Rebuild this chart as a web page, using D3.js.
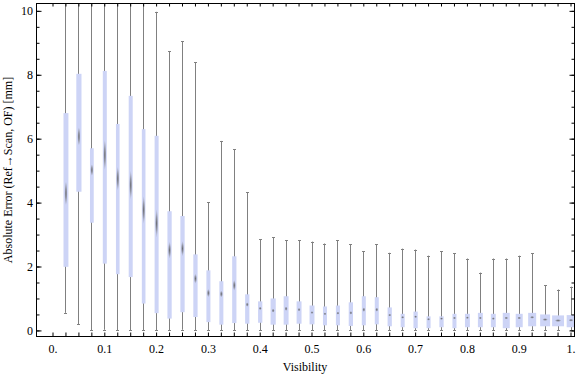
<html>
<head>
  <style>
    body { margin: 0; background: white; }
    svg text { font-family: "Liberation Serif", "Times New Roman", serif; }
  </style>
</head>
<body>
  <svg id="chart">
    <defs></defs>
    <g id="boxes"></g>
    <g id="frame"></g>
    <g id="labels"></g>
  </svg>
  <script src="https://cdn.jsdelivr.net/npm/d3@7/dist/d3.min.js"></script>
  <script>
    // bin centres (visibility)
    var visibility = [0.025, 0.05, 0.075, 0.1, 0.125, 0.15, 0.175, 0.2, 0.225, 0.25,
                      0.275, 0.3, 0.325, 0.35, 0.375, 0.4, 0.425, 0.45, 0.475, 0.5,
                      0.525, 0.55, 0.575, 0.6, 0.625, 0.65, 0.675, 0.7, 0.725, 0.75,
                      0.775, 0.8, 0.825, 0.85, 0.875, 0.9, 0.925, 0.95, 0.975, 1.0];
    // box-whisker statistics, absolute error [mm]
    var whiskerLow = [0.55, 0.19, 0.0, 0.02, 0.0, 0.0, 0.0, 0.0, 0.0, 0.02,
                      0.0, 0.0, 0.0, 0.0, 0.0, 0.0, 0.0, 0.0, 0.0, 0.0,
                      0.0, 0.0, 0.0, 0.0, 0.0, 0.0, 0.0, 0.0, 0.0, 0.0,
                      0.0, 0.0, 0.0, 0.0, 0.0, 0.0, 0.0, 0.0, 0.0, 0.0];
    var quartile1 = [1.99, 4.34, 3.37, 2.09, 1.76, 1.67, 0.84, 0.54, 0.37, 0.57,
                     0.42, 0.26, 0.18, 0.23, 0.21, 0.24, 0.18, 0.18, 0.21, 0.19,
                     0.16, 0.16, 0.14, 0.16, 0.19, 0.13, 0.10, 0.07, 0.07, 0.10,
                     0.07, 0.10, 0.10, 0.10, 0.07, 0.10, 0.13, 0.13, 0.13, 0.10];
    var medians = [4.29, 6.07, 5.02, 5.49, 4.75, 4.55, 3.77, 3.35, 2.51, 2.56,
                   1.62, 1.17, 1.14, 1.41, 0.81, 0.69, 0.62, 0.68, 0.65, 0.56,
                   0.52, 0.54, 0.55, 0.65, 0.65, 0.48, 0.41, 0.43, 0.35, 0.37,
                   0.39, 0.40, 0.39, 0.37, 0.39, 0.39, 0.41, 0.34, 0.31, 0.32];
    var quartile3 = [6.80, 8.03, 5.70, 8.12, 6.46, 7.34, 6.30, 6.09, 3.73, 3.58,
                     2.38, 1.88, 1.54, 2.32, 1.13, 0.91, 1.00, 1.07, 0.91, 0.78,
                     0.75, 0.78, 0.88, 1.07, 1.04, 0.72, 0.52, 0.59, 0.44, 0.44,
                     0.52, 0.52, 0.55, 0.52, 0.55, 0.52, 0.55, 0.50, 0.47, 0.48];
    var whiskerHigh = [12.5, 12.5, 12.5, 12.5, 12.5, 12.5, 12.5, 9.97, 8.73, 9.05,
                       8.39, 4.01, 5.93, 5.67, 4.32, 2.85, 2.91, 2.82, 2.82, 2.78,
                       2.72, 2.82, 2.69, 2.48, 2.69, 2.43, 2.56, 2.53, 2.34, 2.47,
                       2.41, 2.25, 1.81, 2.25, 2.25, 2.34, 2.41, 1.42, 1.28, 1.37];
    // relative box width (fraction of bin spacing)
    var boxWeight = [0.38, 0.40, 0.29, 0.31, 0.28, 0.31, 0.28, 0.31, 0.33, 0.33,
                     0.33, 0.31, 0.31, 0.33, 0.33, 0.33, 0.40, 0.38, 0.38, 0.38,
                     0.31, 0.31, 0.33, 0.31, 0.31, 0.33, 0.31, 0.33, 0.31, 0.33,
                     0.31, 0.38, 0.38, 0.38, 0.54, 0.54, 0.62, 0.77, 0.92, 0.67];

    var xTickLabels = ["0.", "0.1", "0.2", "0.3", "0.4", "0.5", "0.6", "0.7", "0.8", "0.9", "1."];
    var xTickValues = [0, 0.1, 0.2, 0.3, 0.4, 0.5, 0.6, 0.7, 0.8, 0.9, 1.0];
    var yTickValues = [0, 2, 4, 6, 8, 10];
    var yMinorValues = [0, 0.5, 1, 1.5, 2, 2.5, 3, 3.5, 4, 4.5, 5, 5.5, 6, 6.5, 7, 7.5, 8, 8.5, 9, 9.5, 10];

    var width = 576, height = 377;
    var frame = {left: 36.5, right: 574.5, top: 3.5, bottom: 336.5};

    var svg = d3.select("#chart").attr("width", width).attr("height", height);

    var x = d3.scaleLinear().domain([-0.0309, 1.0077]).range([frame.left, frame.right]);
    var y = d3.scaleLinear().domain([-0.19, 10.23]).range([frame.bottom, frame.top]);
    var step = x(0.025) - x(0);

    var data = visibility.map(function(v, i) {
      return {v: v, lo: whiskerLow[i], q1: quartile1[i], med: medians[i], q3: quartile3[i], hi: whiskerHigh[i], w: boxWeight[i]};
    });

    // clip + gradient for the median marker
    var defs = svg.select("defs");
    defs.append("clipPath").attr("id", "plotClip")
      .append("rect")
      .attr("x", frame.left).attr("y", frame.top)
      .attr("width", frame.right - frame.left).attr("height", frame.bottom - frame.top);
    var grad = defs.append("radialGradient").attr("id", "medGrad");
    grad.append("stop").attr("offset", "0%").attr("stop-color", "#505050").attr("stop-opacity", 0.8);
    grad.append("stop").attr("offset", "45%").attr("stop-color", "#666").attr("stop-opacity", 0.55);
    grad.append("stop").attr("offset", "100%").attr("stop-color", "#888").attr("stop-opacity", 0);

    var boxes = d3.select("#boxes").attr("clip-path", "url(#plotClip)")
      .selectAll("g").data(data).enter().append("g");

    // whiskers
    boxes.append("line")
      .attr("x1", function(d) { return Math.round(x(d.v)) + 0.5; })
      .attr("x2", function(d) { return Math.round(x(d.v)) + 0.5; })
      .attr("y1", function(d) { return y(d.lo); })
      .attr("y2", function(d) { return y(d.hi); })
      .attr("stroke", "#808080").attr("stroke-width", 1);
    // caps
    ["lo", "hi"].forEach(function(k) {
      boxes.append("line")
        .attr("x1", function(d) { return Math.round(x(d.v)) - 1; })
        .attr("x2", function(d) { return Math.round(x(d.v)) + 2; })
        .attr("y1", function(d) { return Math.round(y(d[k])) + 0.5; })
        .attr("y2", function(d) { return Math.round(y(d[k])) + 0.5; })
        .attr("stroke", "#808080").attr("stroke-width", 1);
    });
    // boxes
    boxes.append("rect")
      .attr("x", function(d) { return x(d.v) + 0.5 - d.w * step / 2; })
      .attr("width", function(d) { return d.w * step; })
      .attr("y", function(d) { return y(d.q3); })
      .attr("height", function(d) { return y(d.q1) - y(d.q3); })
      .attr("fill", "#cdd4f6");
    // median marker
    boxes.append("ellipse")
      .attr("cx", function(d) { return x(d.v) + 0.5; })
      .attr("cy", function(d) { return y(d.med); })
      .attr("rx", function(d) { return Math.max(1.6, d.w * step * 0.28); })
      .attr("ry", function(d) { return Math.max(1.5, (y(d.q1) - y(d.q3)) * 0.08); })
      .attr("fill", "url(#medGrad)");

    // frame and ticks
    var fr = d3.select("#frame");
    fr.append("rect")
      .attr("x", frame.left).attr("y", frame.top)
      .attr("width", frame.right - frame.left).attr("height", frame.bottom - frame.top)
      .attr("fill", "none").attr("stroke", "black").attr("stroke-width", 1);

    var xMinor = [0].concat(visibility);
    fr.append("g").attr("transform", "translate(0," + frame.bottom + ")")
      .call(d3.axisBottom(x).tickValues(xMinor).tickSize(-4).tickFormat(""));
    fr.append("g").attr("transform", "translate(0," + frame.top + ")")
      .call(d3.axisTop(x).tickValues(xMinor).tickSize(-3).tickFormat(""));
    var xLab = fr.append("g").attr("transform", "translate(0," + frame.bottom + ")")
      .call(d3.axisBottom(x).tickValues(xTickValues).tickSize(0).tickPadding(7.5)
        .tickFormat(function(d, i) { return xTickLabels[i]; }));

    fr.append("g").attr("transform", "translate(" + frame.left + ",0)")
      .call(d3.axisLeft(y).tickValues(yMinorValues).tickSize(-3).tickFormat(""));
    fr.append("g").attr("transform", "translate(" + frame.right + ",0)")
      .call(d3.axisRight(y).tickValues(yMinorValues).tickSize(-3).tickFormat(""));
    fr.append("g").attr("transform", "translate(" + frame.right + ",0)")
      .call(d3.axisRight(y).tickValues(yTickValues).tickSize(-5).tickFormat(""));
    var yLab = fr.append("g").attr("transform", "translate(" + frame.left + ",0)")
      .call(d3.axisLeft(y).tickValues(yTickValues).tickSize(-5).tickPadding(3)
        .tickFormat(function(d) { return d; }));

    fr.selectAll(".domain").remove();
    fr.selectAll(".tick line").attr("stroke", "black");
    fr.selectAll(".tick text")
      .attr("font-family", "Liberation Serif, Times New Roman, serif")
      .attr("font-size", "12px").attr("fill", "black");
    yLab.selectAll(".tick text").attr("x", -3.5);

    // axis titles
    var lab = d3.select("#labels");
    lab.append("text")
      .attr("x", 305).attr("y", 371)
      .attr("text-anchor", "middle").attr("font-size", "12px")
      .text("Visibility");
    lab.append("text")
      .attr("transform", "translate(12,170) rotate(-90)")
      .attr("text-anchor", "middle").attr("font-size", "12px")
      .text("Absolute Error (Ref\u2192Scan, OF) [mm]");
  </script>
</body>
</html>
